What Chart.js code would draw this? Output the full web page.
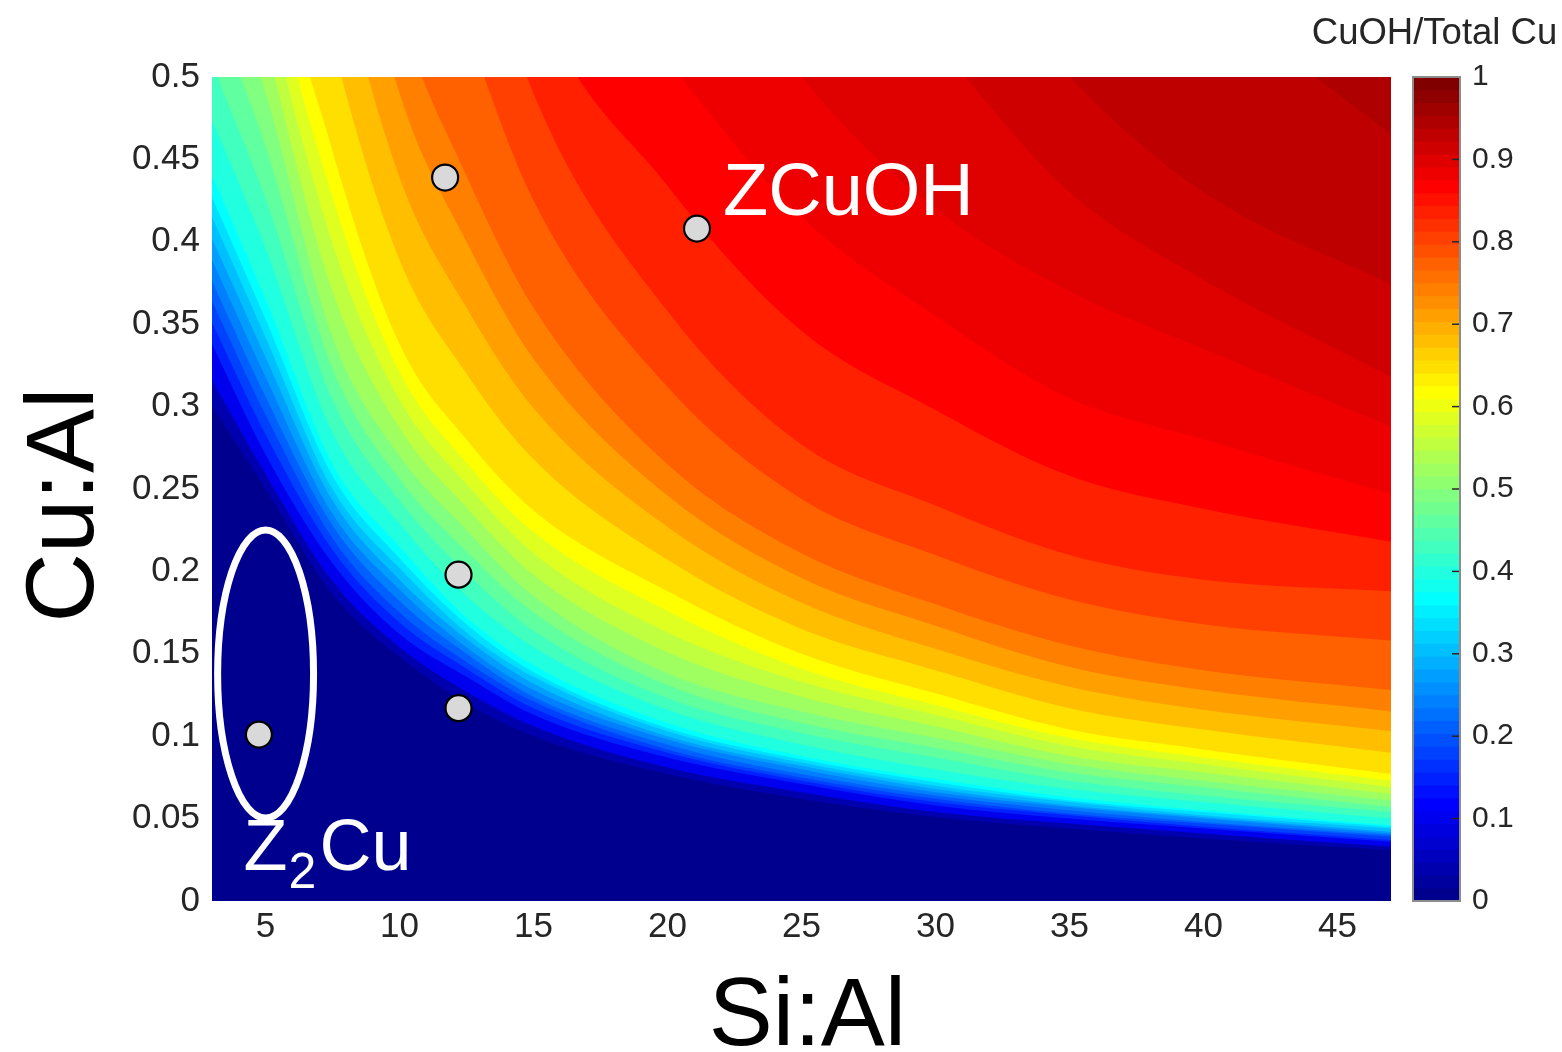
<!DOCTYPE html>
<html>
<head>
<meta charset="utf-8">
<title>CuOH/Total Cu vs Si:Al and Cu:Al</title>
<script src="https://cdn.jsdelivr.net/npm/chart.js@4.4.1/dist/chart.umd.min.js"></script>
<style>
  html, body { margin: 0; padding: 0; background: #ffffff; }
  #frame { position: relative; width: 1562px; height: 1052px; overflow: hidden; }
  #mapCanvas { position: absolute; left: 0; top: 0; }
  #barCanvas { position: absolute; left: 1290px; top: 0; }
</style>
</head>
<body>
<div id="frame">
  <canvas id="mapCanvas" width="1562" height="1052"></canvas>
  <canvas id="barCanvas" width="272" height="1052"></canvas>
</div>
<script>
const FONT = "'Liberation Sans', Arial, Helvetica, sans-serif";
Chart.defaults.font.family = FONT;

// ---- data -------------------------------------------------------------

// Si:Al positions at which every iso-fraction curve is sampled
const siAlGrid = [3, 5, 7.5, 10, 12.5, 15, 20, 25, 30, 35, 40, 47];

// CuOH/Total Cu fraction carried by each iso-curve (colour-map band edges)
const isoFractions = [
  0.015625, 0.0625, 0.125, 0.15625, 0.1875, 0.21875, 0.25, 0.28125, 0.3125, 0.34375,
  0.375, 0.40625, 0.4375, 0.46875, 0.5, 0.53125, 0.5625, 0.59375, 0.625, 0.65625,
  0.6875, 0.71875, 0.75, 0.78125, 0.8125, 0.84375, 0.875, 0.890625, 0.90625, 0.921875, 0.9375
];

// Cu:Al of each iso-curve along siAlGrid (values above 0.5 lie beyond the top of the map)
const isoCuAl = [
  [0.300, 0.250, 0.186, 0.148, 0.120, 0.100, 0.077, 0.062, 0.051, 0.044, 0.038, 0.031],
  [0.316, 0.259, 0.194, 0.154, 0.127, 0.106, 0.081, 0.066, 0.054, 0.047, 0.041, 0.033],
  [0.338, 0.271, 0.205, 0.162, 0.136, 0.113, 0.087, 0.071, 0.058, 0.050, 0.044, 0.036],
  [0.351, 0.283, 0.213, 0.169, 0.141, 0.117, 0.090, 0.073, 0.060, 0.052, 0.045, 0.037],
  [0.364, 0.295, 0.220, 0.175, 0.145, 0.121, 0.092, 0.075, 0.062, 0.053, 0.047, 0.039],
  [0.376, 0.306, 0.228, 0.182, 0.150, 0.124, 0.095, 0.077, 0.064, 0.055, 0.048, 0.040],
  [0.389, 0.318, 0.235, 0.189, 0.154, 0.128, 0.098, 0.080, 0.066, 0.057, 0.050, 0.041],
  [0.402, 0.330, 0.243, 0.195, 0.159, 0.132, 0.100, 0.082, 0.068, 0.058, 0.051, 0.042],
  [0.415, 0.342, 0.250, 0.202, 0.163, 0.136, 0.103, 0.084, 0.070, 0.060, 0.052, 0.044],
  [0.427, 0.353, 0.258, 0.208, 0.168, 0.139, 0.105, 0.086, 0.072, 0.061, 0.054, 0.045],
  [0.440, 0.365, 0.265, 0.215, 0.172, 0.143, 0.108, 0.088, 0.074, 0.063, 0.055, 0.046],
  [0.474, 0.396, 0.284, 0.229, 0.185, 0.154, 0.116, 0.095, 0.080, 0.068, 0.060, 0.050],
  [0.508, 0.426, 0.304, 0.243, 0.199, 0.164, 0.123, 0.102, 0.087, 0.073, 0.064, 0.054],
  [0.544, 0.458, 0.323, 0.256, 0.212, 0.175, 0.131, 0.108, 0.093, 0.078, 0.069, 0.057],
  [0.580, 0.490, 0.342, 0.270, 0.225, 0.185, 0.138, 0.115, 0.099, 0.083, 0.073, 0.061],
  [0.660, 0.522, 0.370, 0.287, 0.239, 0.198, 0.151, 0.124, 0.106, 0.088, 0.078, 0.065],
  [0.740, 0.555, 0.399, 0.304, 0.253, 0.211, 0.163, 0.133, 0.113, 0.094, 0.083, 0.069],
  [0.820, 0.588, 0.427, 0.321, 0.266, 0.224, 0.176, 0.141, 0.119, 0.099, 0.087, 0.073],
  [0.900, 0.620, 0.455, 0.338, 0.280, 0.237, 0.188, 0.150, 0.126, 0.104, 0.092, 0.077],
  [1.025, 0.715, 0.521, 0.389, 0.320, 0.268, 0.207, 0.165, 0.140, 0.117, 0.104, 0.090],
  [1.150, 0.810, 0.588, 0.439, 0.360, 0.299, 0.227, 0.181, 0.153, 0.130, 0.116, 0.103],
  [1.275, 0.905, 0.654, 0.490, 0.400, 0.329, 0.246, 0.196, 0.167, 0.142, 0.128, 0.115],
  [1.400, 1.000, 0.720, 0.540, 0.440, 0.360, 0.265, 0.211, 0.180, 0.155, 0.140, 0.128],
  [1.675, 1.200, 0.875, 0.650, 0.530, 0.425, 0.312, 0.244, 0.210, 0.183, 0.168, 0.158],
  [1.950, 1.400, 1.030, 0.760, 0.620, 0.490, 0.358, 0.277, 0.240, 0.210, 0.195, 0.188],
  [2.225, 1.600, 1.190, 0.870, 0.710, 0.555, 0.434, 0.346, 0.298, 0.258, 0.238, 0.218],
  [2.500, 1.800, 1.350, 0.980, 0.800, 0.620, 0.510, 0.415, 0.355, 0.305, 0.280, 0.247],
  [3.000, 2.200, 1.600, 1.200, 1.000, 0.800, 0.620, 0.500, 0.420, 0.370, 0.335, 0.288],
  [3.500, 2.600, 1.900, 1.400, 1.200, 0.950, 0.750, 0.600, 0.520, 0.430, 0.377, 0.318],
  [4.000, 3.000, 2.200, 1.700, 1.400, 1.150, 0.900, 0.720, 0.600, 0.500, 0.430, 0.374],
  [5.000, 3.600, 2.600, 2.000, 1.700, 1.400, 1.100, 0.900, 0.760, 0.640, 0.555, 0.465]
];

// measured samples
const sampleSiAl = [11.7, 21.1, 12.2, 12.2, 4.75];
const sampleCuAl = [0.439, 0.408, 0.198, 0.117, 0.101];

// axis ticks
const siAlTicks = [5, 10, 15, 20, 25, 30, 35, 40, 45];
const cuAlTicks = [0, 0.05, 0.1, 0.15, 0.2, 0.25, 0.3, 0.35, 0.4, 0.45, 0.5];
const cuAlTickLabels = ['0', '0.05', '0.1', '0.15', '0.2', '0.25', '0.3', '0.35', '0.4', '0.45', '0.5'];
const fractionTicks = [0, 0.1, 0.2, 0.3, 0.4, 0.5, 0.6, 0.7, 0.8, 0.9, 1];
const fractionTickLabels = ['0', '0.1', '0.2', '0.3', '0.4', '0.5', '0.6', '0.7', '0.8', '0.9', '1'];

// annotations, in data units
const zcuohNote = { text: 'ZCuOH', siAl: 22.07, cuAl: 0.416 };
const z2cuNote = { siAl: 4.18, cuAl: 0.0188 };
const z2cuRing = { siAl: 5.0, cuAl: 0.1377, halfSiAl: 1.79, halfCuAl: 0.0874 };

const xTitle = 'Si:Al';
const yTitle = 'Cu:Al';
const colorbarTitle = 'CuOH/Total Cu';

// ---- 64-step jet colour map ------------------------------------------------
const JET_STEPS = 64;
function jetRamp(j) {
  if (j < 1 || j > 47) return 0;
  if (j <= 16) return j / 16;
  if (j <= 31) return 1;
  return (48 - j) / 16;
}
function jetStep(k) { // k = 1..64
  const r = Math.round(255 * jetRamp(k - 24));
  const g = Math.round(255 * jetRamp(k - 8));
  const b = Math.round(255 * jetRamp(k + 8));
  return `rgb(${r},${g},${b})`;
}
function jetColor(v) {
  const k = Math.min(JET_STEPS, Math.max(1, Math.floor(v * JET_STEPS) + 1));
  return jetStep(k);
}

// ---- fraction map ---------------------------------------------------------
const isoDatasets = isoFractions.map((level, i) => {
  const upper = i + 1 < isoFractions.length ? isoFractions[i + 1] : level + 1 / JET_STEPS;
  return {
    type: 'line',
    data: siAlGrid.map((x, j) => ({ x, y: isoCuAl[i][j] })),
    backgroundColor: jetColor((level + upper) / 2),
    borderColor: 'rgba(0,0,0,0)',
    borderWidth: 0,
    pointRadius: 0,
    fill: 'end',
    cubicInterpolationMode: 'monotone',
    capBezierPoints: false,
    order: 1000 - i
  };
});

const sampleDataset = {
  type: 'scatter',
  data: sampleSiAl.map((x, i) => ({ x, y: sampleCuAl[i] })),
  pointRadius: 13,
  pointBackgroundColor: '#d9d9d9',
  pointBorderColor: '#000000',
  pointBorderWidth: 2.2,
  order: 0
};

const plotBackground = {
  id: 'plotBackground',
  beforeDatasetsDraw(chart) {
    const { ctx, chartArea: a } = chart;
    ctx.save();
    ctx.fillStyle = jetColor(0);
    ctx.fillRect(a.left, a.top, a.right - a.left, a.bottom - a.top);
    ctx.restore();
  }
};

const notes = {
  id: 'notes',
  afterDatasetsDraw(chart) {
    const { ctx, scales: { x, y } } = chart;
    ctx.save();
    // ring around the Z2Cu sample
    const cx = x.getPixelForValue(z2cuRing.siAl);
    const cy = y.getPixelForValue(z2cuRing.cuAl);
    const rx = Math.abs(x.getPixelForValue(z2cuRing.siAl + z2cuRing.halfSiAl) - cx);
    const ry = Math.abs(y.getPixelForValue(z2cuRing.cuAl + z2cuRing.halfCuAl) - cy);
    ctx.strokeStyle = '#ffffff';
    ctx.lineWidth = 7;
    ctx.beginPath();
    ctx.ellipse(cx, cy, rx, ry, 0, 0, Math.PI * 2);
    ctx.stroke();

    ctx.fillStyle = '#ffffff';
    ctx.textAlign = 'left';
    ctx.textBaseline = 'alphabetic';
    // ZCuOH
    ctx.font = `74px ${FONT}`;
    ctx.fillText(zcuohNote.text, x.getPixelForValue(zcuohNote.siAl), y.getPixelForValue(zcuohNote.cuAl));
    // Z2Cu with subscript
    let px = x.getPixelForValue(z2cuNote.siAl);
    const py = y.getPixelForValue(z2cuNote.cuAl);
    ctx.font = `72px ${FONT}`;
    ctx.fillText('Z', px, py);
    px += ctx.measureText('Z').width + 1;
    ctx.font = `50px ${FONT}`;
    ctx.fillText('2', px, py + 18);
    px += ctx.measureText('2').width + 3;
    ctx.font = `72px ${FONT}`;
    ctx.fillText('Cu', px, py);
    ctx.restore();
  }
};

// axis titles: the y title sits a little below the middle of the plot,
// the x title a little right of it
const axisTitles = {
  id: 'axisTitles',
  afterDraw(chart) {
    const { ctx, chartArea: a } = chart;
    ctx.save();
    ctx.fillStyle = '#000000';
    ctx.font = `96px ${FONT}`;
    ctx.textAlign = 'center';
    ctx.textBaseline = 'alphabetic';
    ctx.fillText(xTitle, (a.left + a.right) / 2 + 6, chart.height - 7);
    ctx.translate(93, (a.top + a.bottom) / 2 + 16);
    ctx.rotate(-Math.PI / 2);
    ctx.fillText(yTitle, 0, 0);
    ctx.restore();
  }
};

new Chart(document.getElementById('mapCanvas'), {
  type: 'line',
  data: { datasets: [...isoDatasets, sampleDataset] },
  options: {
    responsive: false,
    animation: false,
    events: [],
    layout: { padding: { left: 0, top: 77, right: 171, bottom: 0 } },
    plugins: { legend: { display: false }, tooltip: { enabled: false } },
    scales: {
      x: {
        type: 'linear',
        min: 3,
        max: 47,
        grid: { display: false, drawTicks: false },
        border: { display: false },
        afterBuildTicks(scale) { scale.ticks = siAlTicks.map(v => ({ value: v })); },
        afterFit(scale) { scale.height = 151; },
        ticks: { color: '#262626', font: { size: 35 }, padding: 5, maxRotation: 0 }
      },
      y: {
        type: 'linear',
        min: 0,
        max: 0.5,
        grid: { display: false, drawTicks: false },
        border: { display: false },
        afterBuildTicks(scale) { scale.ticks = cuAlTicks.map(v => ({ value: v })); },
        afterFit(scale) { scale.width = 212; },
        ticks: {
          color: '#262626', font: { size: 35 }, padding: 12,
          callback: (v, i) => cuAlTickLabels[i]
        }
      }
    }
  },
  plugins: [plotBackground, notes, axisTitles]
});

// ---- colour bar -------------------------------------------------------------
const colorbarDatasets = Array.from({ length: JET_STEPS }, (_, i) => ({
  data: [[i / JET_STEPS, 1]],
  backgroundColor: jetStep(i + 1),
  borderWidth: 0,
  grouped: false,
  barPercentage: 1,
  categoryPercentage: 1,
  order: JET_STEPS - i
}));

const colorbarDecor = {
  id: 'colorbarDecor',
  afterDraw(chart) {
    const { ctx, chartArea: a, scales: { y } } = chart;
    ctx.save();
    ctx.strokeStyle = '#262626';
    ctx.lineWidth = 1.5;
    fractionTicks.forEach(v => {
      const py = y.getPixelForValue(v);
      ctx.beginPath();
      ctx.moveTo(a.right - 8, py);
      ctx.lineTo(a.right, py);
      ctx.stroke();
    });
    ctx.strokeStyle = '#8c8c8c';
    ctx.lineWidth = 2;
    ctx.strokeRect(a.left, a.top, a.right - a.left, a.bottom - a.top);
    ctx.fillStyle = '#262626';
    ctx.font = `36.5px ${FONT}`;
    ctx.textAlign = 'center';
    ctx.textBaseline = 'alphabetic';
    ctx.fillText(colorbarTitle, (a.left + a.right) / 2 - 2, 44);
    ctx.restore();
  }
};

new Chart(document.getElementById('barCanvas'), {
  type: 'bar',
  data: { labels: [colorbarTitle], datasets: colorbarDatasets },
  options: {
    responsive: false,
    animation: false,
    events: [],
    layout: { padding: { left: 123, top: 77, right: 0, bottom: 151 } },
    plugins: { legend: { display: false }, tooltip: { enabled: false } },
    scales: {
      x: { display: false },
      y: {
        position: 'right',
        min: 0,
        max: 1,
        grid: { display: false, drawTicks: false },
        border: { display: false },
        afterBuildTicks(scale) { scale.ticks = fractionTicks.map(v => ({ value: v })); },
        afterFit(scale) { scale.width = 102; },
        ticks: { color: '#262626', font: { size: 30 }, padding: 12, callback: (v, i) => fractionTickLabels[i] }
      }
    }
  },
  plugins: [colorbarDecor]
});
</script>
</body>
</html>
